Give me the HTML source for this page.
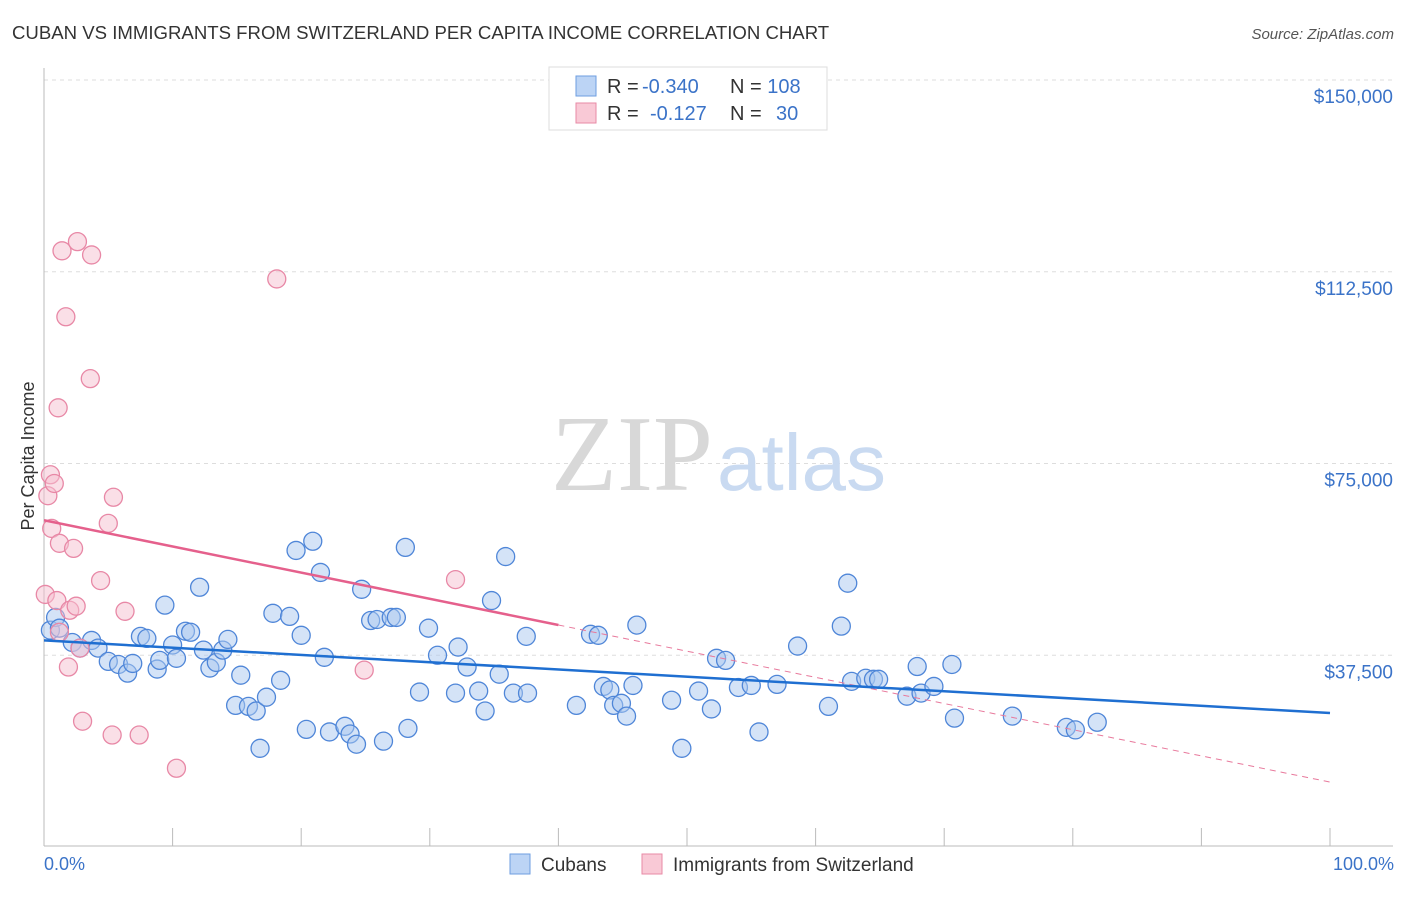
<!DOCTYPE html>
<html><head><meta charset="utf-8"><style>
body{margin:0;background:#fff;font-family:"Liberation Sans",sans-serif;}
svg text{font-family:"Liberation Sans",sans-serif;}
</style></head><body>
<svg width="1406" height="892">
<script>
const blueX=[0.5,0.9,1.2,2.2,2.8,3.7,4.2,5.0,5.8,6.5,6.9,7.5,8.0,8.8,9.0,9.4,10.0,10.3,11.0,11.4,12.1,12.4,12.9,13.4,13.9,14.3,14.9,15.3,15.9,16.5,16.8,17.3,17.8,18.4,19.1,19.6,20.0,20.4,20.9,21.5,21.8,22.2,23.4,23.8,24.3,24.7,25.4,25.9,26.4,27.0,27.4,28.1,28.3,29.2,29.9,30.6,32.0,32.2,32.9,33.8,34.3,34.8,35.4,35.9,36.5,37.6,37.5,41.4,42.5,43.1,43.5,44.0,44.3,44.9,45.3,45.8,46.1,48.8,49.6,50.9,51.9,52.3,53.0,54.0,55.0,55.6,57.0,58.6,61.0,62.0,62.5,62.8,63.9,64.5,64.9,67.1,67.9,68.2,69.2,70.6,70.8,75.3,79.5,80.2,81.9];
const blueY=[42.4,44.9,42.8,40.0,38.9,40.4,38.9,36.3,35.7,34.0,35.9,41.2,40.8,34.8,36.5,47.3,39.5,36.9,42.2,42.0,50.8,38.5,35.0,36.1,38.5,40.6,27.7,33.6,27.5,26.6,19.3,29.3,45.7,32.6,45.1,58.0,41.4,23.0,59.8,53.7,37.1,22.5,23.6,22.1,20.1,50.4,44.3,44.5,20.7,44.9,44.9,58.6,23.2,30.3,42.8,37.5,30.1,39.1,35.2,30.5,26.6,48.2,33.8,56.8,30.1,30.1,41.2,27.7,41.6,41.4,31.4,30.7,27.7,28.1,25.6,31.6,43.4,28.7,19.3,30.5,27.0,36.9,36.5,31.2,31.6,22.5,31.8,39.3,27.5,43.2,51.6,32.4,33.0,32.8,32.8,29.5,35.3,30.1,31.4,35.7,25.2,25.6,23.4,22.9,24.4];
const pinkX=[0.1,0.3,0.5,0.6,0.8,1.0,1.1,1.2,1.4,1.7,1.9,2.0,2.3,2.5,2.6,2.8,3.0,3.6,3.7,4.4,5.0,5.3,5.4,6.3,7.4,10.3,18.1,24.9,32.0,1.2];
const pinkY=[49.4,68.7,72.8,62.3,71.1,48.2,85.9,59.4,116.6,103.7,35.2,46.3,58.4,47.1,118.4,38.9,24.6,91.6,115.8,52.1,63.3,21.9,68.4,46.1,21.9,15.4,111.1,34.6,52.3,42.0];
const blueTrend=[40.4,26.2];
const pinkTrend=[63.9,12.7];
const yTicks=[37.5,75,112.5,150];
const yTickLabels=["$37,500","$75,000","$112,500","$150,000"];
</script>
<g id="grid"></g>
<text x="713" y="490" font-size="108" fill="#d8d8d8" text-anchor="end" style="font-family:'Liberation Serif',serif">ZIP</text>
<text x="717" y="490" font-size="80" fill="#c9daf1">atlas</text>
<line x1="44" y1="68" x2="44" y2="846" stroke="#bbb"/>
<line x1="44" y1="846" x2="1393" y2="846" stroke="#bbb"/>
<g id="ticks"></g>
<g id="pts"></g>
<text x="12" y="39" font-size="18.6" fill="#333">CUBAN VS IMMIGRANTS FROM SWITZERLAND PER CAPITA INCOME CORRELATION CHART</text>
<text x="1394" y="39" font-size="15" fill="#555" text-anchor="end" font-style="italic">Source: ZipAtlas.com</text>
<text x="34" y="456" font-size="18" fill="#333" text-anchor="middle" transform="rotate(-90 34 456)">Per Capita Income</text>
<text x="44" y="870" font-size="18" fill="#3b73c8">0.0%</text>
<text x="1394" y="870" font-size="18" fill="#3b73c8" text-anchor="end">100.0%</text>
<g>
<rect x="549" y="67" width="278" height="63" fill="#fff" stroke="#ddd"/>
<rect x="576" y="76" width="20" height="20" fill="#bcd4f5" stroke="#6e9ee0"/>
<rect x="576" y="103" width="20" height="20" fill="#f9c9d6" stroke="#e88aa6"/>
<text x="607" y="93" font-size="20" fill="#333">R = <tspan fill="#3b73c8" x="642">-0.340</tspan><tspan x="730">N = </tspan><tspan fill="#3b73c8">108</tspan></text>
<text x="607" y="120" font-size="20" fill="#333">R = <tspan fill="#3b73c8" x="650">-0.127</tspan><tspan x="730">N = </tspan><tspan fill="#3b73c8" x="776">30</tspan></text>
</g>
<g>
<rect x="510" y="854" width="20" height="20" fill="#bcd4f5" stroke="#6e9ee0"/>
<text x="541" y="871" font-size="19" fill="#333">Cubans</text>
<rect x="642" y="854" width="20" height="20" fill="#f9c9d6" stroke="#e88aa6"/>
<text x="673" y="871" font-size="19" fill="#333">Immigrants from Switzerland</text>
</g>
<script>
const NS='http://www.w3.org/2000/svg';
const sx=v=>44+v*12.86;
const sy=v=>847-v*5.113;
const grid=document.getElementById('grid');
yTicks.forEach((t,i)=>{
 const l=document.createElementNS(NS,'line');
 
 
 l.setAttribute('x1',44);l.setAttribute('x2',1393);l.setAttribute('y1',sy(t));l.setAttribute('y2',sy(t));
 l.setAttribute('stroke','#ddd');l.setAttribute('stroke-dasharray','4 4');grid.appendChild(l);
 const tx=document.createElementNS(NS,'text');
 
 
 tx.setAttribute('x',1393);tx.setAttribute('y',sy(t)+23);tx.setAttribute('text-anchor','end');
 tx.setAttribute('font-size','19');tx.setAttribute('fill','#3b73c8');tx.textContent=yTickLabels[i];grid.appendChild(tx);
});
const tk=document.getElementById('ticks');
for(let i=0;i<=10;i++){
 const l=document.createElementNS(NS,'line');
 
 
 l.setAttribute('x1',sx(i*10));l.setAttribute('x2',sx(i*10));l.setAttribute('y1',828);l.setAttribute('y2',846);
 l.setAttribute('stroke','#bbb');tk.appendChild(l);
}
const pg=document.getElementById('pts');
function dot(x,y,f,s,name){
 const c=document.createElementNS(NS,'circle');
 
 
 c.setAttribute('cx',sx(x));c.setAttribute('cy',sy(y));c.setAttribute('r',9);
 c.setAttribute('fill',f);c.setAttribute('fill-opacity','0.5');c.setAttribute('stroke',s);c.setAttribute('stroke-width','1.3');
 pg.appendChild(c);
}
blueX.forEach((x,i)=>dot(x,blueY[i],'#a9c8f0','#4f86d8','cuban-point'));
pinkX.forEach((x,i)=>dot(x,pinkY[i],'#f6bfd0','#e888a6','swiss-point'));
function line(x1,y1,x2,y2,col,w,dash,name){
 const l=document.createElementNS(NS,'line');
 
 
 l.setAttribute('x1',sx(x1));l.setAttribute('y1',sy(y1));l.setAttribute('x2',sx(x2));l.setAttribute('y2',sy(y2));
 l.setAttribute('stroke',col);l.setAttribute('stroke-width',w);if(dash)l.setAttribute('stroke-dasharray',dash);
 pg.appendChild(l);
}
const pAt=x=>pinkTrend[0]+(pinkTrend[1]-pinkTrend[0])*x/100;
line(40,pAt(40),100,pinkTrend[1],'#e8799c',1,'6 5','swiss-trend-dashed');
line(0,pinkTrend[0],40,pAt(40),'#e5608c',2.5,null,'swiss-trend-line');
line(0,blueTrend[0],100,blueTrend[1],'#1f6fd1',2.5,null,'cuban-trend-line');
</script>
</svg>
</body></html>
